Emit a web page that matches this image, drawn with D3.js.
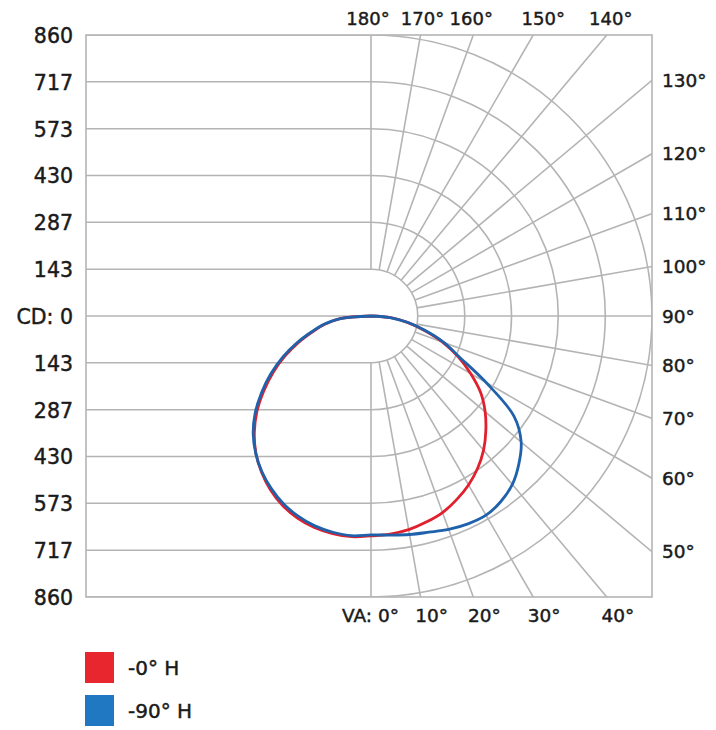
<!DOCTYPE html>
<html>
<head>
<meta charset="utf-8">
<script src="https://cdn.jsdelivr.net/npm/d3@7"></script>
<style>
  body { margin: 0; background: #fff; }
  text { font-family: "DejaVu Sans", sans-serif; fill: #1a1a1a; stroke: #1a1a1a; stroke-width: 0.45px; }
</style>
</head>
<body>
<div id="chart"></div>
<script>
// vertical angles (deg from straight down, negative = left half)
const angles = [-90, -85, -80, -75, -70, -65, -60, -55, -50, -45, -40, -35, -30, -25, -20, -15, -10, -5,
  0, 5, 10, 15, 20, 25, 30, 35, 40, 45, 50, 55, 60, 65, 70, 75, 80, 85, 90];

// candela values
const cd0H = [0, 95, 142, 184, 236, 291, 346, 401, 456, 505, 548, 584, 615, 640, 658, 670, 676, 678,
  673, 670, 664, 653, 640, 620, 597, 569, 536, 497, 456, 410, 352, 294, 233, 168, 113, 61, 0];
const cd90H = [0, 97, 146, 189, 242, 298, 354, 409, 463, 510, 549, 582, 610, 634, 652, 665, 672, 675,
  670, 673, 679, 685, 695, 702, 704, 693, 673, 640, 600, 534, 406, 300, 238, 172, 115, 62, 0];

const cdTicks = [860, 717, 573, 430, 287, 143, 0, -143, -287, -430, -573, -717, -860];
const ringValues = [143, 287, 430, 573, 717, 860];
const spokeAngles = [10, 20, 30, 40, 50, 60, 70, 80, 90, 100, 110, 120, 130, 140, 150, 160, 170];
const topLabels = [180, 170, 160, 150, 140];
const rightLabels = [130, 120, 110, 100, 90, 80, 70, 60, 50];
const bottomLabels = [10, 20, 30, 40];

const width = 716, height = 730;
const cx = 371, cy = 316, R = 281;
const left = 86;

const svg = d3.select("#chart")
  .append("svg")
  .attr("width", width)
  .attr("height", height);

const r = d3.scaleLinear().domain([0, 860]).range([0, R]);
const y = d3.scaleLinear().domain([-860, 860]).range([cy + R, cy - R]);
// VA degrees -> d3 radial angle (0 = up, clockwise)
const a = d3.scaleLinear().domain([0, 180]).range([Math.PI, 0]);
const rad = d => d * Math.PI / 180;

svg.append("clipPath").attr("id", "box")
  .append("rect")
  .attr("x", left).attr("y", cy - R)
  .attr("width", cx + R - left).attr("height", 2 * R);

const grid = svg.append("g")
  .attr("clip-path", "url(#box)")
  .attr("fill", "none")
  .attr("stroke", "#b4b4b4")
  .attr("stroke-width", 1.6);

// left half: horizontal lines
grid.selectAll(".hline")
  .data(cdTicks)
  .enter().append("line")
  .attr("x1", left).attr("x2", cx)
  .attr("y1", d => y(d)).attr("y2", d => y(d));

// right half: rings
grid.selectAll(".ring")
  .data(ringValues)
  .enter().append("path")
  .attr("d", d => {
    const p = d3.path();
    p.moveTo(cx, cy - r(d));
    p.arc(cx, cy, r(d), -Math.PI / 2, Math.PI / 2);
    return p.toString();
  });

// spokes, starting at the first ring
const spokes = [0, ...spokeAngles, 180];
grid.selectAll(".spoke")
  .data(spokes)
  .enter().append("line")
  .attr("x1", d => cx + r(143) * Math.sin(a(d)))
  .attr("y1", d => cy - r(143) * Math.cos(a(d)))
  .attr("x2", d => cx + 2 * R * Math.sin(a(d)))
  .attr("y2", d => cy - 2 * R * Math.cos(a(d)));

// border
svg.append("rect")
  .attr("x", left).attr("y", cy - R)
  .attr("width", cx + R - left).attr("height", 2 * R)
  .attr("fill", "none")
  .attr("stroke", "#b4b4b4")
  .attr("stroke-width", 1.6);

// curves
const line = d3.lineRadial()
  .angle(d => a(d[0]))
  .radius(d => r(d[1]))
  .curve(d3.curveCatmullRom);

const series = [
  { label: "-0° H", values: cd0H, color: "#e1202d", legend: "#e8262d" },
  { label: "-90° H", values: cd90H, color: "#1f62ab", legend: "#1f78c1" }
];

svg.selectAll(".curve")
  .data(series)
  .enter().append("path")
  .attr("transform", `translate(${cx},${cy})`)
  .attr("d", s => line(angles.map((ang, i) => [ang, s.values[i]])))
  .attr("fill", "none")
  .attr("stroke", s => s.color)
  .attr("stroke-width", 2.8);

// left axis
const yAxis = d3.axisLeft(y)
  .tickValues(cdTicks)
  .tickSize(0)
  .tickPadding(13)
  .tickFormat(d => d === 0 ? "CD: 0" : Math.abs(d));

svg.append("g")
  .attr("transform", `translate(${left},0)`)
  .call(yAxis)
  .call(g => g.select(".domain").remove())
  .selectAll("text")
  .style("font-family", "DejaVu Sans")
  .style("font-size", "20.5px")
  .style("fill", "#1a1a1a")
  .attr("dy", "0.36em");

// angle labels (small nudges so they sit where the picture has them)
const topNudge = { 180: -3, 170: 2, 160: -2, 150: 10, 140: 4 };
svg.selectAll(".toplab")
  .data(topLabels)
  .enter().append("text")
  .attr("x", d => cx + R * Math.tan(rad(180 - d)) + topNudge[d])
  .attr("y", 25)
  .attr("text-anchor", "middle")
  .style("font-size", "18px")
  .text(d => d + "°");

svg.selectAll(".rightlab")
  .data(rightLabels)
  .enter().append("text")
  .attr("x", 662)
  .attr("y", d => cy - R * Math.tan(rad(d - 90)))
  .attr("dy", "0.36em")
  .style("font-size", "18.5px")
  .text(d => d + "°");

svg.append("text")
  .attr("x", 399)
  .attr("y", 622)
  .attr("text-anchor", "end")
  .style("font-size", "18.5px")
  .text("VA: 0°");

svg.selectAll(".botlab")
  .data(bottomLabels)
  .enter().append("text")
  .attr("x", d => cx + R * Math.tan(rad(d)) + 11)
  .attr("y", 622)
  .attr("text-anchor", "middle")
  .style("font-size", "18.5px")
  .text(d => d + "°");

// legend
const legend = svg.selectAll(".legend")
  .data(series)
  .enter().append("g")
  .attr("transform", (d, i) => `translate(85,${652 + i * 43})`);

legend.append("rect")
  .attr("width", 29)
  .attr("height", 31)
  .attr("fill", d => d.legend);

legend.append("text")
  .attr("x", 43)
  .attr("y", 16)
  .attr("dy", "0.36em")
  .style("font-size", "20px")
  .text(d => d.label);
</script>
</body>
</html>
